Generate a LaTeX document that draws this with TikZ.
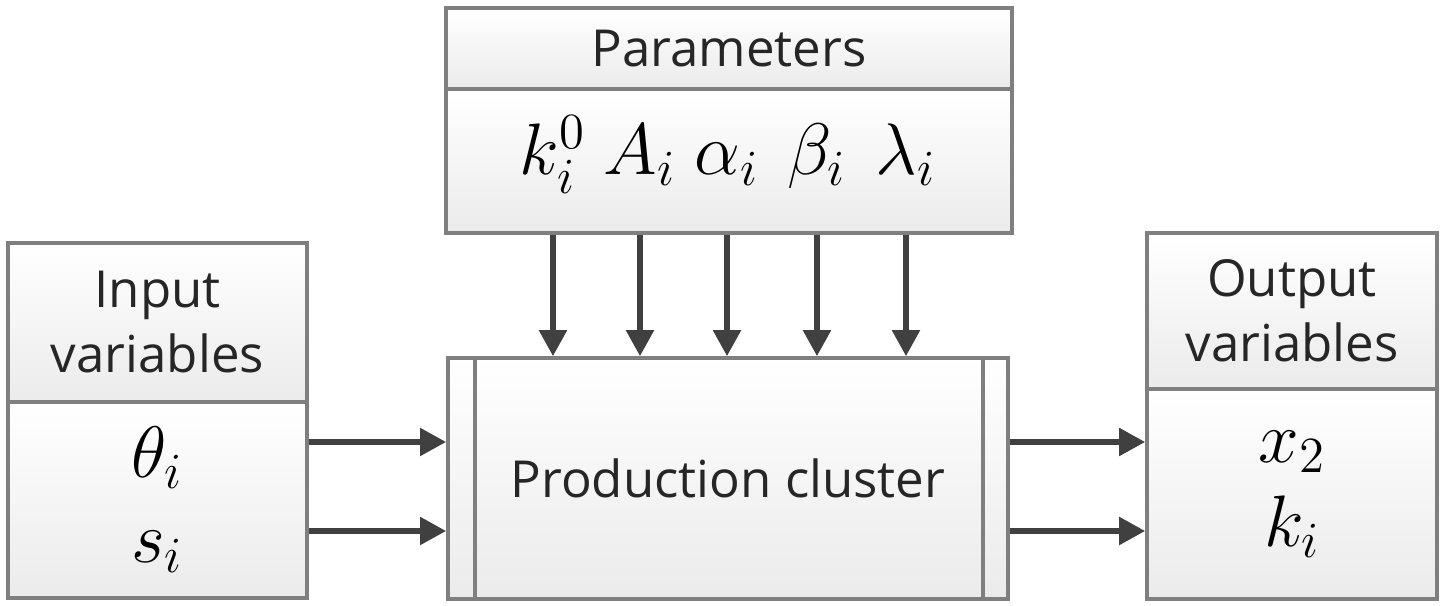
\documentclass[tikz,border=0pt]{standalone}
\usepackage{fontspec}
\setmainfont{Open Sans}
\usetikzlibrary{arrows.meta, positioning, shadings}

\definecolor{boxgray}{HTML}{7F7F7F}
\definecolor{boxfill}{HTML}{EBEBEB}
\definecolor{arrgray}{HTML}{404040}

\begin{document}
\begin{tikzpicture}[
        x=0.01cm, y=-0.01cm,
        hdr/.style={draw=boxgray, line width=1pt, top color=white, bottom color=boxfill,
        inner sep=0pt, align=center, text=black!85, font=\fontsize{14.5}{18.5}\selectfont},
        body/.style={hdr, text=black, font=\fontsize{20}{24}\selectfont},
        sym/.style={inner sep=0pt, anchor=base, font=\fontsize{20}{24}\selectfont},
        arr/.style={-{Triangle[length=2.6mm, width=2.7mm]}, line width=1.5pt, draw=arrgray},
        sep/.style={draw=boxgray, line width=1pt}
      ]
      \useasboundingbox (0,0) rectangle (1441,606);

      % Parameters
      \node[hdr, minimum width=5.66cm, minimum height=0.81cm] (parhdr) at (729, 48.5)
      {Parameters};
      \node[body, minimum width=5.66cm, minimum height=1.44cm] (par) at (729, 161) {};
      \node[sym] (p1) at (553, 175) {$k_i^0$};
      \node[sym] (p2) at (640, 175) {$A_i$};
      \node[sym] (p3) at (727, 175) {$\alpha_i$};
      \node[sym] (p4) at (817, 175) {$\beta_i$};
      \node[sym] (p5) at (906, 175) {$\lambda_i$};

      % Input variables
      \node[hdr, minimum width=2.99cm, minimum height=1.59cm] (inhdr) at (157.5, 322.5)
      {Input\\variables};
      \node[body, minimum width=2.99cm, minimum height=1.96cm] (in) at (157.5, 500)
      {$\theta_i$\\$s_i$};

      % Output variables
      \node[hdr, minimum width=2.90cm, minimum height=1.56cm] (outhdr) at (1292, 311)
      {Output\\variables};
      \node[body, minimum width=2.90cm, minimum height=2.10cm] (out) at (1292, 494)
      {$x_2$\\$k_i$};

      % Production cluster
      \node[hdr, minimum width=5.60cm, minimum height=2.41cm] (prod) at (728, 478.5)
      {Production cluster};
      \draw[sep] ([xshift=2.9mm]prod.north west) -- ([xshift=2.9mm]prod.south west);
      \draw[sep] ([xshift=-2.7mm]prod.north east) -- ([xshift=-2.7mm]prod.south east);

      % Parameter arrows
      \foreach \p in {p1, p2, p3, p4, p5}
        \draw[arr] (\p |- par.south) -- (\p |- prod.north);

      % Input and output arrows
      \coordinate (r1) at (0, 442);
      \coordinate (r2) at (0, 531);
      \draw[arr] (in.east |- r1) -- (prod.west |- r1);
      \draw[arr] (in.east |- r2) -- (prod.west |- r2);
      \draw[arr] (prod.east |- r1) -- (out.west |- r1);
      \draw[arr] (prod.east |- r2) -- (out.west |- r2);
    \end{tikzpicture}
\end{document}
